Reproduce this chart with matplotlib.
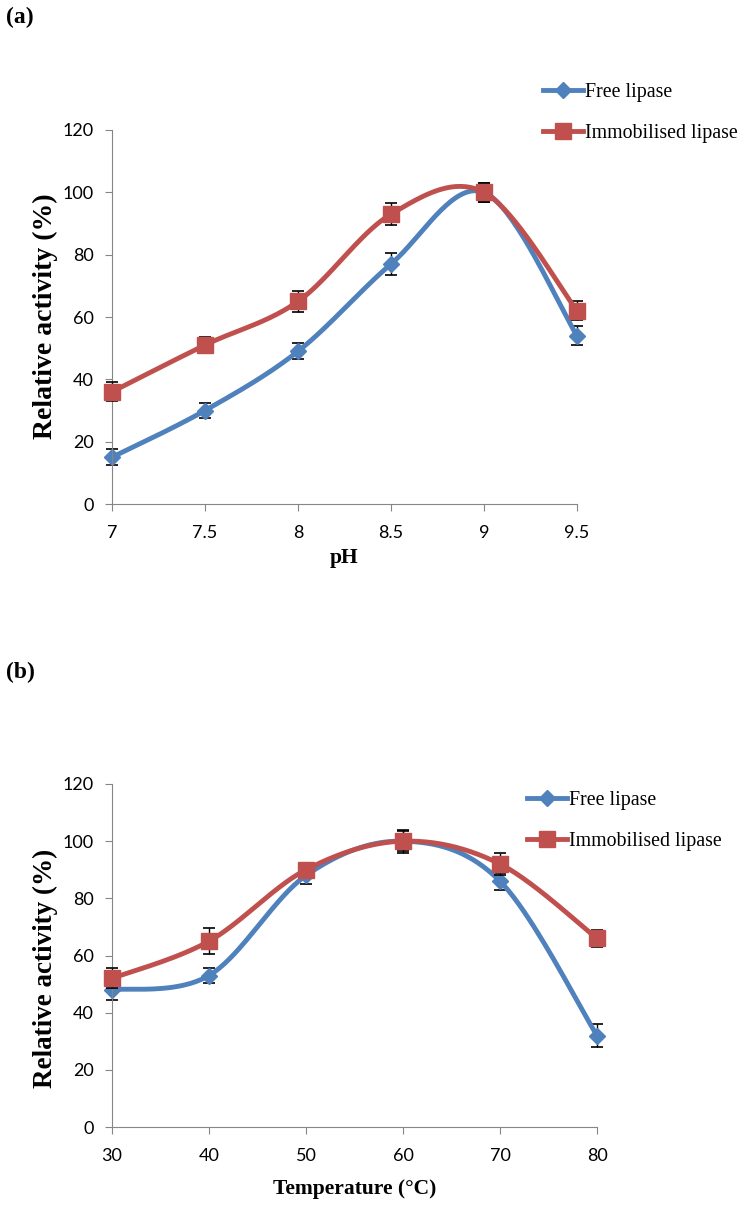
import numpy as np
import matplotlib
matplotlib.use("Agg")
import matplotlib.pyplot as plt

# panel (a): pH
ph = [7, 7.5, 8, 8.5, 9, 9.5]
ph_free = [15, 30, 49, 77, 100, 54]
ph_free_err = [2.5, 2.5, 2.5, 3.5, 3, 3]
ph_imm = [36, 51, 65, 93, 100, 62]
ph_imm_err = [3, 2.5, 3.5, 3.5, 3, 3]

# panel (b): temperature
temp = [30, 40, 50, 60, 70, 80]
temp_free = [48, 53, 88, 100, 86, 32]
temp_free_err = [3.5, 2.5, 3, 3.5, 3, 4]
temp_imm = [52, 65, 90, 100, 92, 66]
temp_imm_err = [3.5, 4.5, 2, 4, 4, 3]

BLUE = "#4F81BD"
RED = "#C0504D"
GREY = "#868686"
SERIF = "Liberation Serif"
W, H = 746, 1205


def smooth(x, y, n=40):
    # excel-like smoothed line (cardinal spline -> cubic bezier)
    x = np.asarray(x, float)
    y = np.asarray(y, float)
    px = np.concatenate([[x[0]], x, [x[-1]]])
    py = np.concatenate([[y[0]], y, [y[-1]]])
    t = np.linspace(0, 1, n)
    xs, ys = [], []
    for i in range(1, len(px) - 2):
        p0 = np.array([px[i], py[i]])
        p3 = np.array([px[i + 1], py[i + 1]])
        p1 = p0 + (np.array([px[i + 1], py[i + 1]]) - np.array([px[i - 1], py[i - 1]])) / 6
        p2 = p3 - (np.array([px[i + 2], py[i + 2]]) - np.array([px[i], py[i]])) / 6
        b = ((1 - t) ** 3)[:, None] * p0 + (3 * (1 - t) ** 2 * t)[:, None] * p1 \
            + (3 * (1 - t) * t ** 2)[:, None] * p2 + (t ** 3)[:, None] * p3
        xs.append(b[:, 0])
        ys.append(b[:, 1])
    return np.concatenate(xs), np.concatenate(ys)


def panel(box, x, free, free_err, imm, imm_err, xlabel, xlabel_y, tag, tag_y,
          leg_xy, leg_size, ylab_size, ylab_y):
    left, top, right, bottom = box
    ax = fig.add_axes([left / W, 1 - bottom / H, (right - left) / W, (bottom - top) / H])
    z = 2
    for y, err, col, mk, ms in [(free, free_err, BLUE, "D", 8.5), (imm, imm_err, RED, "s", 11)]:
        sx, sy = smooth(x, y)
        ax.errorbar(x, y, yerr=err, fmt="none", ecolor="black", elinewidth=1,
                    capsize=4, capthick=1.2, zorder=z)
        ax.plot(sx, sy, color=col, lw=3.5, solid_capstyle="round", zorder=z + 0.1)
        ax.plot(x, y, ls="none", marker=mk, ms=ms, color=col, zorder=z + 0.2)
        z += 1
    ax.plot([], [], color=BLUE, lw=3.5, marker="D", ms=8.5, label="Free lipase")
    ax.plot([], [], color=RED, lw=3.5, marker="s", ms=11, label="Immobilised lipase")

    ax.set_xlim(x[0], x[-1])
    ax.set_ylim(0, 120)
    ax.set_xticks(x)
    ax.set_xticklabels([f"{v:g}" for v in x])
    ax.set_yticks(range(0, 121, 20))
    for s in ["top", "right"]:
        ax.spines[s].set_visible(False)
    for s in ["left", "bottom"]:
        ax.spines[s].set_color(GREY)
    ax.tick_params(colors=GREY, length=5, labelcolor="black", labelsize=13)
    ax.tick_params(axis="x", pad=10)
    ax.tick_params(axis="y", pad=8)
    for lab in ax.get_xticklabels() + ax.get_yticklabels():
        lab.set_family("Lato")
    for art in ax.lines + ax.collections:
        art.set_clip_on(False)

    fig.text(45 / W, 1 - ylab_y / H, "Relative activity (%)", family=SERIF,
             weight="bold", fontsize=ylab_size, rotation=90, ha="center", va="center")
    fig.text((left + right) / 2 / W, 1 - xlabel_y / H, xlabel, family=SERIF,
             weight="bold", fontsize=15.5, ha="center", va="center")
    fig.text(6 / W, 1 - tag_y / H, tag, family=SERIF, weight="bold",
             fontsize=17, va="center", ha="left")

    ax.legend(loc="upper left", bbox_to_anchor=(leg_xy[0] / W, 1 - leg_xy[1] / H),
              bbox_transform=fig.transFigure, frameon=False, borderpad=0,
              handlelength=2.0, handletextpad=0.1, labelspacing=1.1,
              prop={"family": SERIF, "size": leg_size})
    return ax


fig = plt.figure(figsize=(W / 100, H / 100), dpi=100)
panel((112, 130, 577, 504), ph, ph_free, ph_free_err, ph_imm, ph_imm_err,
      "pH", 558, "(a)", 17, (533, 73), 14.3, 20, 316)
panel((112, 784, 597, 1127), temp, temp_free, temp_free_err, temp_imm, temp_imm_err,
      "Temperature (°C)", 1189, "(b)", 672, (517, 781), 14.3, 19.5, 968)

fig.savefig("out.png", dpi=100)
